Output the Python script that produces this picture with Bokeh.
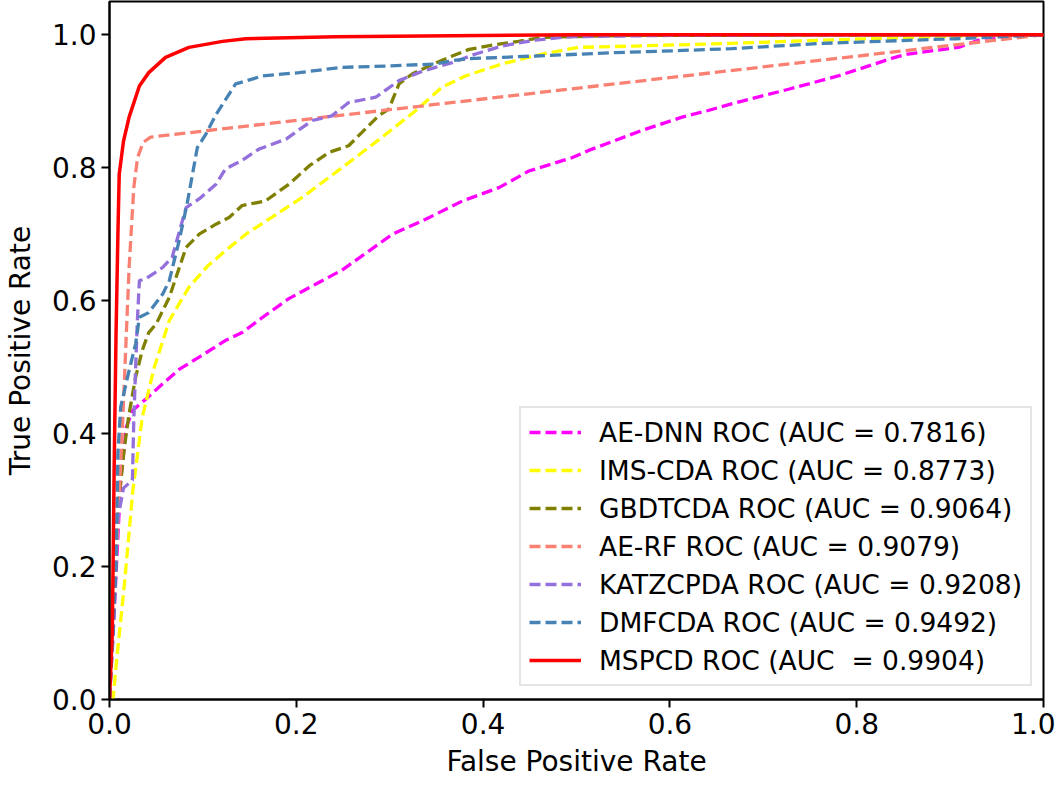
from bokeh.plotting import figure
from bokeh.models import Legend, LegendItem, FixedTicker, Range1d
from bokeh.embed import file_html
from bokeh.resources import INLINE

# ---- data ----
ae_dnn_fpr = [0, 0.006, 0.012, 0.018, 0.025, 0.039, 0.057, 0.075, 0.096, 0.124, 0.142, 0.164,
              0.192, 0.221, 0.249, 0.278, 0.303, 0.335, 0.378, 0.417, 0.449, 0.495, 0.513, 0.570,
              0.613, 0.641, 0.666, 0.727, 0.780, 0.841, 0.855, 0.909, 0.937, 1.0]
ae_dnn_tpr = [0, 0.16, 0.33, 0.41, 0.435, 0.452, 0.475, 0.497, 0.515, 0.540, 0.552, 0.575,
              0.603, 0.625, 0.646, 0.675, 0.700, 0.720, 0.750, 0.770, 0.795, 0.815, 0.826, 0.856,
              0.876, 0.886, 0.896, 0.918, 0.938, 0.966, 0.971, 0.981, 0.995, 1.0]

ims_fpr = [0, 0.004, 0.007, 0.016, 0.025, 0.035, 0.048, 0.064, 0.085, 0.105, 0.124, 0.146, 0.206,
           0.249, 0.292, 0.328, 0.356, 0.381, 0.420, 0.463, 0.502, 0.563, 0.666, 0.766, 0.887, 1.0]
ims_tpr = [0, 0.003, 0.05, 0.174, 0.314, 0.424, 0.500, 0.570, 0.620, 0.652, 0.675, 0.700, 0.755,
           0.800, 0.846, 0.886, 0.921, 0.938, 0.956, 0.971, 0.981, 0.983, 0.987, 0.992, 0.997, 1.0]

gbdt_fpr = [0, 0.004, 0.010, 0.016, 0.021, 0.028, 0.035, 0.042, 0.050, 0.064, 0.082, 0.096, 0.114,
            0.128, 0.142, 0.167, 0.192, 0.214, 0.235, 0.256, 0.288, 0.299, 0.310, 0.324, 0.345,
            0.367, 0.385, 0.413, 0.438, 0.463, 0.55, 1.0]
gbdt_tpr = [0, 0.15, 0.30, 0.38, 0.43, 0.485, 0.525, 0.552, 0.565, 0.605, 0.680, 0.700, 0.715,
            0.725, 0.743, 0.750, 0.775, 0.803, 0.823, 0.833, 0.878, 0.888, 0.926, 0.941, 0.955,
            0.968, 0.978, 0.985, 0.990, 0.996, 0.999, 1.0]

aerf_fpr = [0, 0.014, 0.021, 0.026, 0.030, 0.036, 0.044, 1.0]
aerf_tpr = [0, 0.415, 0.65, 0.77, 0.815, 0.838, 0.846, 1.0]

katz_fpr = [0, 0.003, 0.006, 0.015, 0.0245, 0.026, 0.028, 0.030, 0.032, 0.039, 0.057, 0.067,
            0.082, 0.096, 0.114, 0.124, 0.142, 0.160, 0.189, 0.217, 0.238, 0.256, 0.285, 0.310,
            0.331, 0.349, 0.367, 0.392, 0.420, 0.456, 0.492, 0.6, 1.0]
katz_tpr = [0, 0.10, 0.25, 0.318, 0.33, 0.42, 0.50, 0.575, 0.630, 0.633, 0.650, 0.665,
            0.740, 0.753, 0.775, 0.798, 0.811, 0.828, 0.843, 0.871, 0.878, 0.898, 0.906, 0.931,
            0.943, 0.951, 0.958, 0.971, 0.983, 0.992, 0.997, 0.999, 1.0]

dmf_fpr = [0, 0.004, 0.007, 0.009, 0.012, 0.021, 0.028, 0.032, 0.042, 0.057, 0.064, 0.0745, 0.083,
           0.094, 0.103, 0.114, 0.135, 0.164, 0.203, 0.249, 0.299, 0.349, 0.367, 0.385, 0.456,
           0.541, 0.606, 0.666, 0.763, 0.905, 0.94, 1.0]
dmf_tpr = [0, 0.10, 0.20, 0.37, 0.44, 0.495, 0.535, 0.575, 0.582, 0.610, 0.630, 0.690, 0.745,
           0.830, 0.850, 0.880, 0.926, 0.938, 0.943, 0.951, 0.953, 0.956, 0.961, 0.964, 0.968,
           0.973, 0.976, 0.979, 0.987, 0.994, 0.996, 1.0]

mspcd_fpr = [0, 0.003, 0.005, 0.007, 0.009, 0.0104, 0.015, 0.021, 0.032, 0.042, 0.060, 0.085,
             0.121, 0.146, 0.242, 0.367, 0.5, 1.0]
mspcd_tpr = [0, 0.10, 0.35, 0.55, 0.70, 0.79, 0.84, 0.876, 0.923, 0.943, 0.966, 0.981,
             0.990, 0.994, 0.997, 0.9985, 1.0, 1.0]

labels = ["AE-DNN ROC (AUC = 0.7816)", "IMS-CDA ROC (AUC = 0.8773)", "GBDTCDA ROC (AUC = 0.9064)",
          "AE-RF ROC (AUC = 0.9079)", "KATZCPDA ROC (AUC = 0.9208)", "DMFCDA ROC (AUC = 0.9492)",
          "MSPCD ROC (AUC  = 0.9904)"]
colors = ["#FF00FF", "#FFFF00", "#808000", "#FA8072", "#9370DB", "#4682B4", "#FF0000"]
ticks = [0.0, 0.2, 0.4, 0.6, 0.8, 1.0]
tick_labels = ["0.0", "0.2", "0.4", "0.6", "0.8", "1.0"]

series = [(ae_dnn_fpr, ae_dnn_tpr), (ims_fpr, ims_tpr), (gbdt_fpr, gbdt_tpr), (aerf_fpr, aerf_tpr),
          (katz_fpr, katz_tpr), (dmf_fpr, dmf_tpr), (mspcd_fpr, mspcd_tpr)]

FONT = "DejaVu Sans"

p = figure(width=1055, height=785, output_backend="svg", toolbar_location=None,
           x_range=Range1d(0, 1), y_range=Range1d(0, 1.05),
           min_border_left=107, min_border_right=12, min_border_top=1, min_border_bottom=86)
p.xgrid.visible = False
p.ygrid.visible = False
p.outline_line_color = "black"
p.outline_line_width = 2
p.outline_line_alpha = 1

items = []
for i, ((xs, ys), lab, col) in enumerate(zip(series, labels, colors)):
    if i == len(series) - 1:
        r = p.line(xs, ys, line_color=col, line_width=3.5)
    else:
        r = p.line(xs, ys, line_color=col, line_width=3.3, line_dash="11 5")
    items.append(LegendItem(label=lab, renderers=[r]))

for ax in (p.xaxis[0], p.yaxis[0]):
    ax.ticker = FixedTicker(ticks=ticks)
    ax.major_label_overrides = {t: l for t, l in zip(ticks, tick_labels)}
    ax.minor_tick_line_color = None
    ax.major_tick_out = 8
    ax.major_tick_in = 0
    ax.major_tick_line_width = 2
    ax.major_tick_line_color = "black"
    ax.axis_line_width = 2
    ax.axis_line_color = "black"
    ax.major_label_text_font = FONT
    ax.major_label_text_font_size = "28px"
    ax.major_label_text_color = "black"
    ax.axis_label_text_font = FONT
    ax.axis_label_text_font_size = "28px"
    ax.axis_label_text_font_style = "normal"
    ax.axis_label_text_color = "black"

p.xaxis.axis_label = "False Positive Rate"
p.yaxis.axis_label = "True Positive Rate"
p.xaxis.major_label_standoff = 5
p.yaxis.major_label_standoff = 5
p.xaxis.axis_label_standoff = 8
p.yaxis.axis_label_standoff = 12

legend = Legend(items=items, location=(410, 13))
legend.label_text_font = FONT
legend.label_text_font_size = "26.5px"
legend.label_text_color = "black"
legend.glyph_width = 52
legend.glyph_height = 32
legend.label_height = 32
legend.label_standoff = 18
legend.spacing = 6
legend.padding = 8
legend.border_line_color = "#cccccc"
legend.border_line_width = 2
legend.background_fill_color = "white"
legend.background_fill_alpha = 0.9
p.add_layout(legend)

open("out.html", "w").write(file_html(p, INLINE))
